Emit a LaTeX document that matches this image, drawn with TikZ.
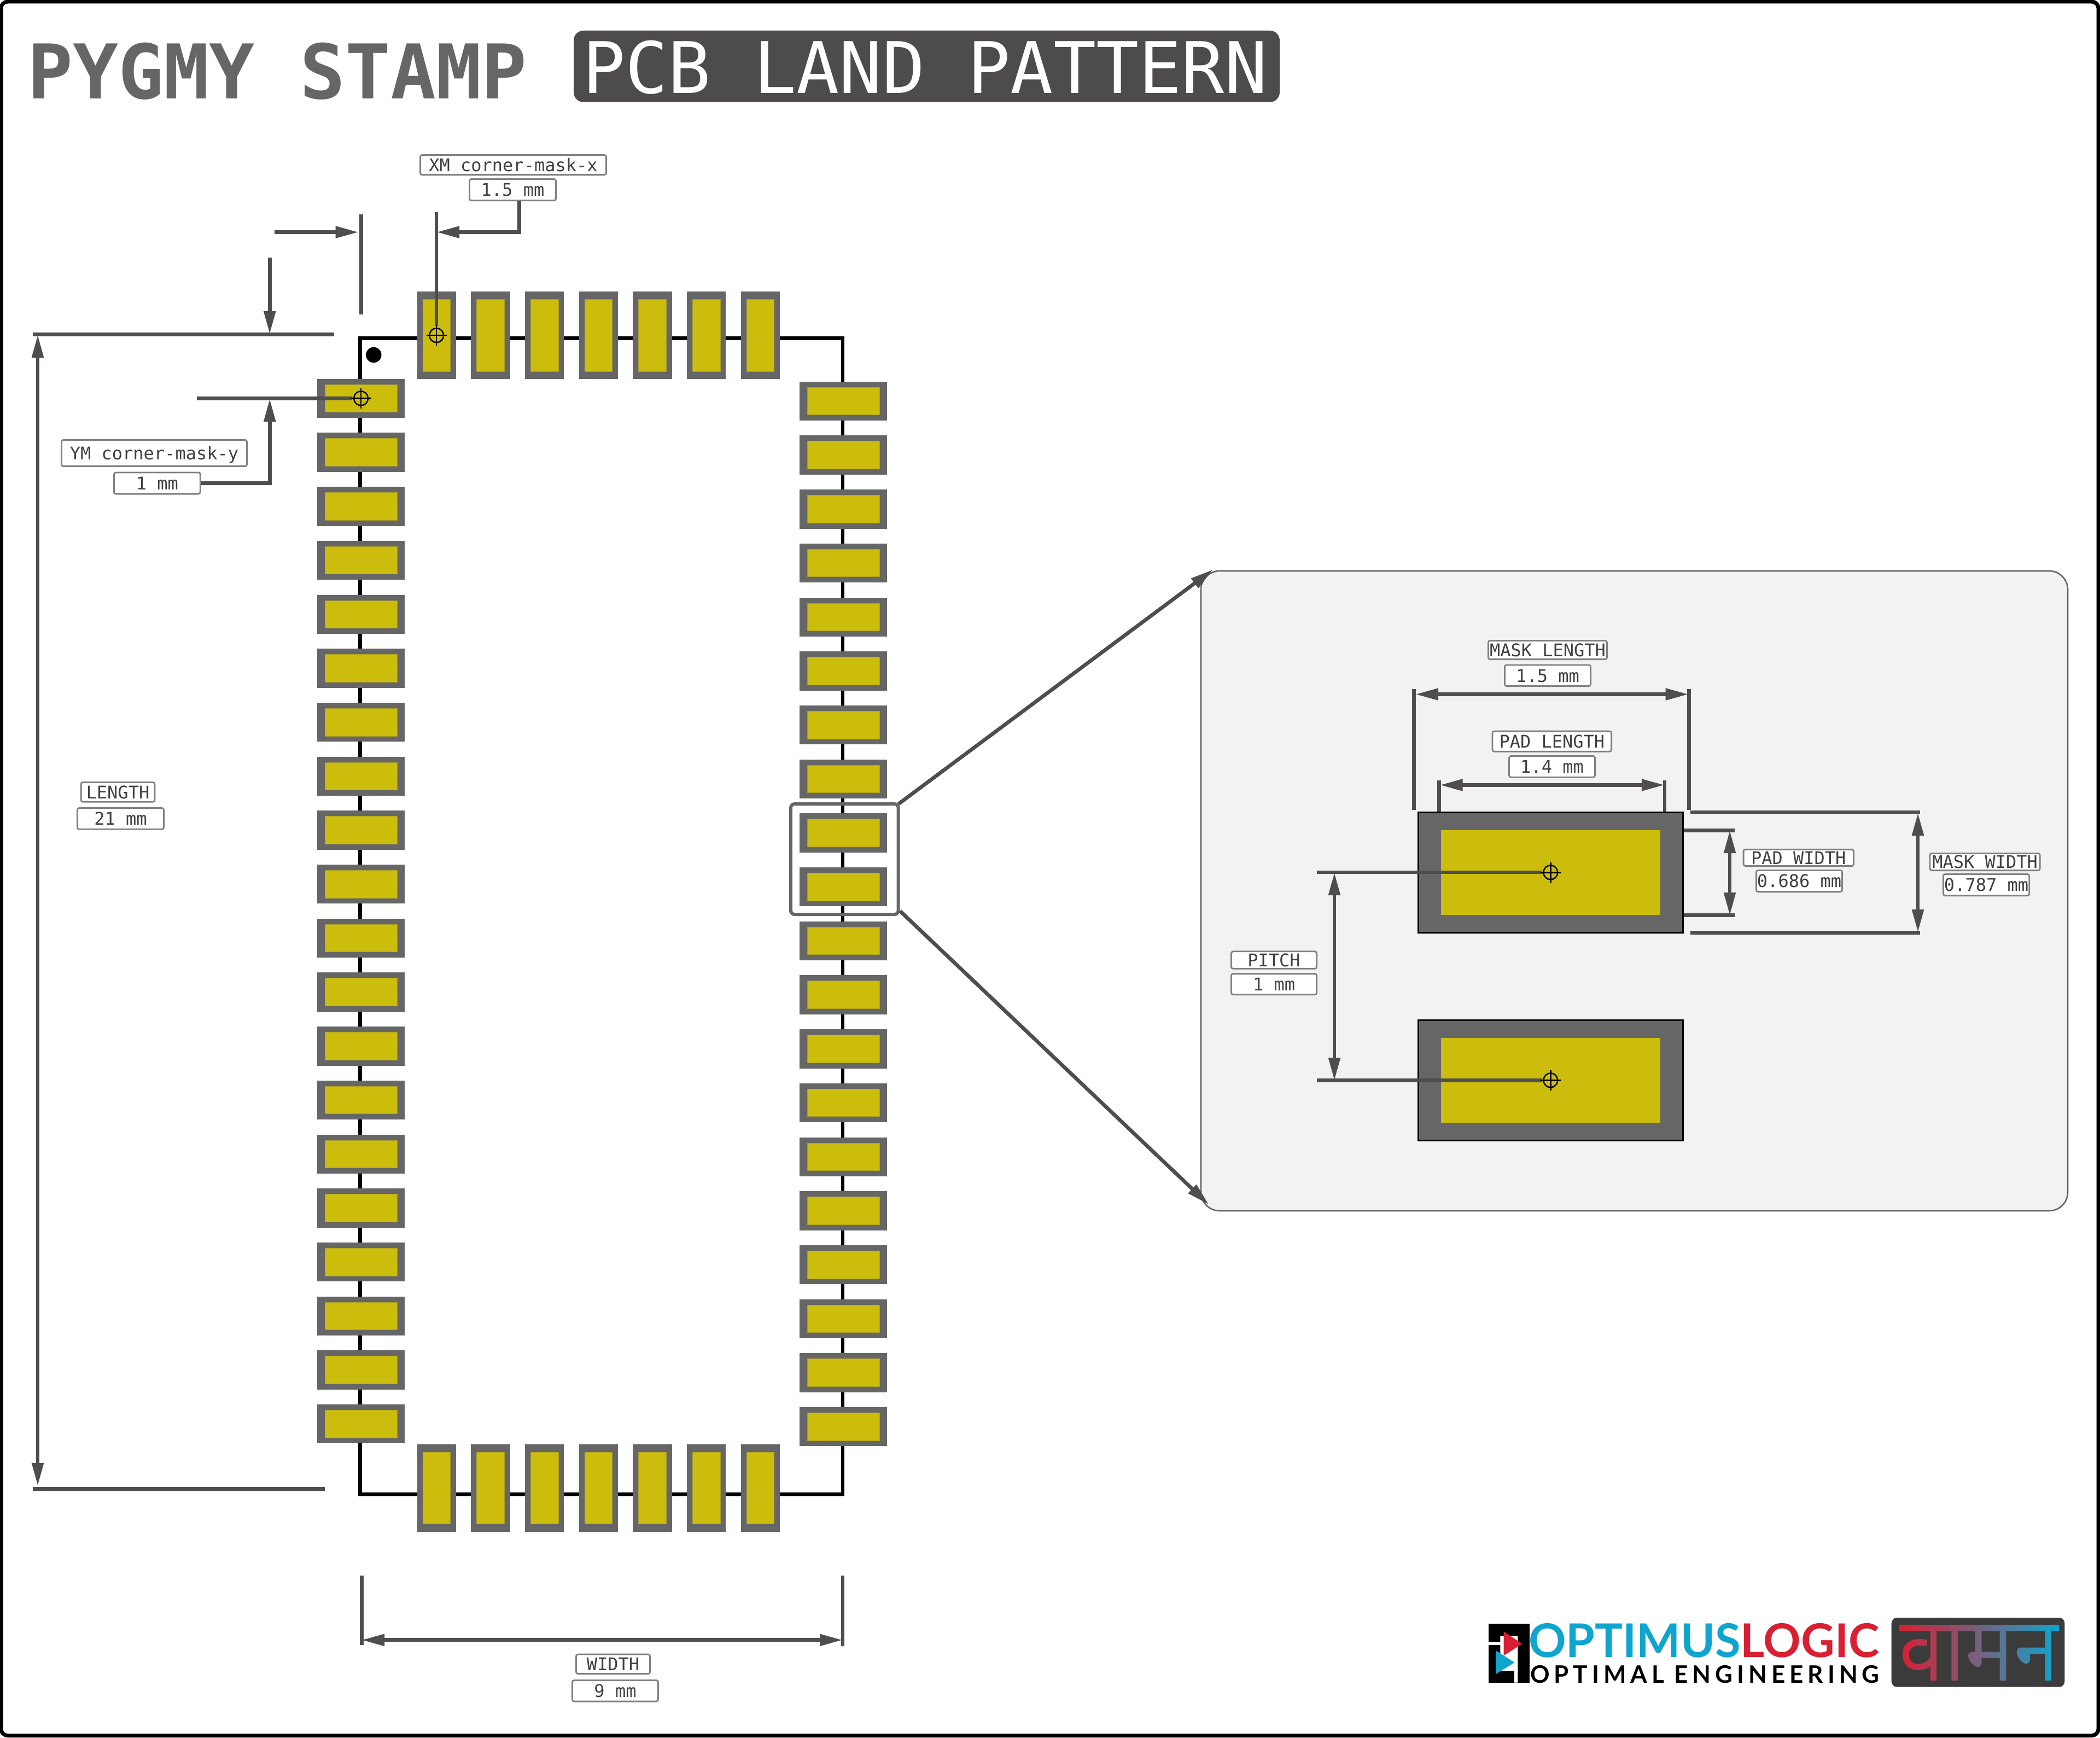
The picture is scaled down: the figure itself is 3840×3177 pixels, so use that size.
\documentclass[tikz,border=0pt]{standalone}
\usepackage{graphicx}
\usepackage{fontspec}
\setmainfont{DejaVu Sans}
\setmonofont{DejaVu Sans Mono}
\newfontfamily\lato{Lato}
\newfontfamily\latospaced[LetterSpace=18]{Lato}
\newfontfamily\vamanfont[Script=Devanagari]{Noto Sans}
\usetikzlibrary{arrows.meta,fadings}
\definecolor{dimc}{HTML}{4F4D4E}
\definecolor{maskc}{HTML}{666666}
\definecolor{copperc}{HTML}{CCBD0C}
\definecolor{copperl}{HTML}{A89C28}
\definecolor{boxc}{HTML}{808080}
\definecolor{textc}{HTML}{404040}
\definecolor{titlec}{HTML}{666666}
\definecolor{titlebg}{HTML}{4D4B4C}
\definecolor{logocyan}{HTML}{0EA5CE}
\definecolor{logored}{HTML}{D91F31}
\definecolor{vamanbg}{HTML}{3B3B3B}
\definecolor{panelc}{HTML}{F2F2F2}
\tikzset{
  dimtip/.tip={Triangle[length=42pt,width=20.5pt,sep=-3pt]},
  dimline/.style={draw=dimc,line width=6.8pt},
  dimarrow/.style={dimline,-{dimtip}},
  dimboth/.style={dimline,{dimtip}-{dimtip}},
  dimbox/.style={draw=boxc,fill=white,line width=2.8pt,rounded corners=3.5pt,inner sep=0pt,
     text=textc,font=\ttfamily\fontsize{32}{32}\selectfont,text height=23.5pt,text depth=0pt,align=center},
  maskh/.style={rectangle,fill=maskc,inner sep=0pt,minimum width=160pt,minimum height=71.4pt},
  copperh/.style={rectangle,fill=copperc,draw=copperl,line width=.8pt,inner sep=0pt,minimum width=132pt,minimum height=50.6pt},
  maskv/.style={rectangle,fill=maskc,inner sep=0pt,minimum width=71.4pt,minimum height=160pt},
  copperv/.style={rectangle,fill=copperc,draw=copperl,line width=.8pt,inner sep=0pt,minimum width=50.6pt,minimum height=131.7pt},
  detailmask/.style={rectangle,fill=maskc,draw=black,line width=2.6pt,inner sep=0pt,minimum width=484pt,minimum height=220pt},
  detailcopper/.style={rectangle,fill=copperc,inner sep=0pt,minimum width=401pt,minimum height=155pt},
  xhair/.style={draw=black,line width=2.4pt},
}
\newcommand{\dimlabel}[6]{%
  \pgfmathsetmacro{\dlw}{#4-#2-2.8}\pgfmathsetmacro{\dlh}{#5-#3-2.8}%
  \node[dimbox,minimum width=\dlw pt,minimum height=\dlh pt] (#1) at ({(#2+#4)/2},{(#3+#5)/2}) {#6};}
\newcommand{\crosshair}[1]{%
  \draw[xhair] (#1.center) circle[radius=13pt];
  \draw[xhair] ([xshift=-18.5pt]#1.center) -- ([xshift=18.5pt]#1.center);
  \draw[xhair] ([yshift=-18.5pt]#1.center) -- ([yshift=18.5pt]#1.center);}
\begin{tikzfadingfrompicture}[name=vamanfade]
  \node[text=transparent!0,inner sep=0pt] at (0,0) {\resizebox{292pt}{102pt}{\vamanfont\bfseries वामन}};
\end{tikzfadingfrompicture}
\begin{document}
\begin{tikzpicture}[x=1pt,y=-1pt]
\useasboundingbox (0,0) rectangle (3840,3177);
\fill[white] (0,0) rectangle (3840,3177);
\draw[black,line width=7pt,rounded corners=12pt] (2,3) rectangle (3837,3173.5);

% title
\node[anchor=base west,inner sep=0pt,text=titlec,font=\ttfamily\bfseries\fontsize{138}{138}\selectfont] (title1) at (50,180) {PYGMY STAMP};
\fill[titlebg,rounded corners=18pt] (1049,56) rectangle (2340,186.7);
\node[anchor=base west,inner sep=0pt,text=white,font=\ttfamily\fontsize{130}{130}\selectfont] (title2) at (1065,170) {PCB LAND PATTERN};

% board outline
\draw[black,line width=6.4pt] (658.5,618.3) rectangle (1541,2732.4);

% pads
\foreach \i in {0,...,19}{
  \pgfmathsetmacro{\yl}{728.4+\i*98.7}
  \pgfmathsetmacro{\yr}{733.4+\i*98.7}
  \node[maskh] (L\i) at (660,\yl) {};
  \node[copperh] (Lc\i) at (660,\yl) {};
  \node[maskh] (R\i) at (1542,\yr) {};
  \node[copperh] (Rc\i) at (1542,\yr) {};
}
\foreach \j in {0,...,6}{
  \pgfmathsetmacro{\xp}{798.2+\j*98.7}
  \node[maskv] (T\j) at (\xp,613.2) {};
  \node[copperv] (Tc\j) at (\xp,613.6) {};
  \node[maskv] (B\j) at (\xp,2721) {};
  \node[copperv] (Bc\j) at (\xp,2720.8) {};
}
% pin-1 dot
\fill[black] (683.3,649) circle[radius=14.2pt];

% zoom frame
\node[rectangle,draw=maskc,line width=6pt,rounded corners=7pt,inner sep=0pt,minimum width=196.7pt,minimum height=202pt] (frame) at (1544.3,1571) {};

% detail panel
\node[rectangle,draw=maskc,fill=panelc,line width=2.6pt,rounded corners=34pt,inner sep=0pt,minimum width=1585pt,minimum height=1170pt] (panel) at (2988.5,1629) {};
\coordinate (ztopa) at (1643,1470);
\coordinate (ztopb) at (2215.7,1043.3);
\coordinate (zbota) at (1645.7,1665.7);
\coordinate (zbotb) at (2208.3,2200.7);
\draw[dimarrow] (ztopa) -- (ztopb);
\draw[dimarrow] (zbota) -- (zbotb);

\node[detailmask] (dm1) at (2835.3,1595.3) {};
\node[detailcopper] (dc1) at (2835.3,1595.7) {};
\node[detailmask] (dm2) at (2835.3,1975.3) {};
\node[detailcopper] (dc2) at (2835.3,1975.7) {};

% top-left dimensions
\coordinate (cxL1) at (660.3,391.5); \coordinate (cxL2) at (660.3,575);
\coordinate (cxR1) at (798,387.5);   \coordinate (cxR2) at (798,596);
\coordinate (cxA1) at (502,424.5);   \coordinate (cxA2) at (652.7,424.5);
\coordinate (cxB2) at (801,424.5);
\coordinate (cyA1) at (493.2,471.4); \coordinate (cyA2) at (493.2,608);
\coordinate (cyB2) at (493.2,732);
\coordinate (cyL1) at (60,611.6);    \coordinate (cyL2) at (610.6,611.6);
\coordinate (cyP1) at (360,728.6);   \coordinate (cyP2) at (643,728.6);
\coordinate (lenA) at (69,615);      \coordinate (lenB) at (69,2714);
\coordinate (lenL1) at (60,2722.4);  \coordinate (lenL2) at (593.5,2722.4);
\dimlabel{xmn}{767}{282}{1110}{321}{XM corner-mask-x}
\dimlabel{xmv}{857}{326}{1018}{368}{1.5 mm}
\dimlabel{ymn}{111}{803}{453}{854}{YM corner-mask-y}
\dimlabel{ymv}{207}{862.5}{367.6}{904.5}{1 mm}
\dimlabel{lenn}{146.7}{1429}{284.3}{1467.7}{LENGTH}
\dimlabel{lenv}{140}{1476}{301}{1517.7}{21 mm}
\dimlabel{widn}{1052}{3023.6}{1190}{3062}{WIDTH}
\dimlabel{widv}{1045}{3071}{1205}{3112.5}{9 mm}
\draw[dimline] (cxL1) -- (cxL2);
\draw[dimline] (cxR1) -- (cxR2);
\draw[dimarrow] (cxA1) -- (cxA2);
\draw[dimarrow] ([xshift=12pt]xmv.south) |- (cxB2);
\draw[dimarrow] (cyA1) -- (cyA2);
\draw[dimarrow] (ymv.east) -| (cyB2);
\draw[dimline] (cyL1) -- (cyL2);
\draw[dimline] (cyP1) -- (cyP2);
\draw[dimboth] (lenA) -- (lenB);
\draw[dimline] (lenL1) -- (lenL2);
\crosshair{T0}
\crosshair{L0}

% width dimension
\coordinate (wa1) at (661.6,2880.5); \coordinate (wa2) at (661.6,3008);
\coordinate (wb1) at (1541,2880.5);  \coordinate (wb2) at (1541,3010);
\coordinate (wl) at (664,2998.8);    \coordinate (wr) at (1538,2998.8);
\draw[dimline] (wa1) -- (wa2);
\draw[dimline] (wb1) -- (wb2);
\draw[dimboth] (wl) -- (wr);

% panel dimensions
\coordinate (ml1a) at (2585.7,1260); \coordinate (ml1b) at (2585.7,1481);
\coordinate (ml2a) at (3088.8,1260); \coordinate (ml2b) at (3088.8,1481);
\coordinate (mlL) at (2591,1269.5);  \coordinate (mlR) at (3084.7,1269.5);
\coordinate (pl1a) at (2631.6,1427.4); \coordinate (pl1b) at (2631.6,1484);
\coordinate (pl2a) at (3043.9,1427.4); \coordinate (pl2b) at (3043.9,1484);
\coordinate (plL) at (2635.7,1435.4); \coordinate (plR) at (3040.8,1435.4);
\coordinate (pw1a) at (3078.6,1518.4); \coordinate (pw1b) at (3172.4,1518.4);
\coordinate (pw2a) at (3078.6,1673.8); \coordinate (pw2b) at (3172.4,1673.8);
\coordinate (pwT) at (3163,1521);    \coordinate (pwB) at (3163,1671);
\coordinate (mw1a) at (3091,1485);   \coordinate (mw1b) at (3511,1485);
\coordinate (mw2a) at (3091,1705.7); \coordinate (mw2b) at (3511,1705.7);
\coordinate (mwT) at (3507,1489);    \coordinate (mwB) at (3507,1702);
\coordinate (pi1a) at (2408,1595);   \coordinate (pi1b) at (2819,1595);
\coordinate (pi2a) at (2408,1975.3); \coordinate (pi2b) at (2819,1975.3);
\coordinate (piT) at (2440,1598);    \coordinate (piB) at (2440,1973);
\foreach \a/\b in {ml1a/ml1b,ml2a/ml2b,pl1a/pl1b,pl2a/pl2b,pw1a/pw1b,pw2a/pw2b,mw1a/mw1b,mw2a/mw2b,pi1a/pi1b,pi2a/pi2b}
  \draw[dimline] (\a) -- (\b);
\foreach \a/\b in {mlL/mlR,plL/plR,pwT/pwB,mwT/mwB,piT/piB}
  \draw[dimboth] (\a) -- (\b);
\crosshair{dm1}
\crosshair{dm2}
\dimlabel{mln}{2720}{1170}{2940}{1207}{MASK LENGTH}
\dimlabel{mlv}{2750}{1214.5}{2910}{1256}{1.5 mm}
\dimlabel{pln}{2727.6}{1335.7}{2948}{1375.6}{PAD LENGTH}
\dimlabel{plv}{2758}{1381}{2918}{1422.6}{1.4 mm}
\dimlabel{pwn}{3186.7}{1551.8}{3390.8}{1585}{PAD WIDTH}
\dimlabel{pwv}{3210}{1590}{3370}{1632}{0.686 mm}
\dimlabel{mwn}{3527.6}{1559}{3731.6}{1593}{MASK WIDTH}
\dimlabel{mwv}{3552}{1597}{3712}{1639}{0.787 mm}
\dimlabel{pin}{2250}{1738.4}{2409}{1772.7}{PITCH}
\dimlabel{piv}{2250}{1779}{2409}{1820}{1 mm}

% logo icon
\fill[black] (2721.7,2969.3) rectangle (2796.7,3076.7);
\fill[white] (2721.7,3002.3) rectangle (2744,3008.3);
\fill[white] (2743.3,2991.3) -- (2775.3,2991.3) -- (2775.3,3076.7) -- (2769,3076.7) -- (2769,3055) -- (2743.3,3055) -- cycle;
\fill[logored] (2749.7,2983.3) -- (2783.3,3005.7) -- (2749.7,3027.3) -- cycle;
\fill[logocyan] (2735.3,3018) -- (2769.3,3040) -- (2735.3,3061) -- cycle;
% logo text
\node[anchor=base west,inner sep=0pt,font=\lato\bfseries\fontsize{85}{85}\selectfont] (logo1) at (2795,3030) {\textcolor{logocyan}{OPTIMUS}\textcolor{logored}{LOGIC}};
\node[anchor=base west,inner sep=0pt,text=black,font=\latospaced\bfseries\fontsize{44}{44}\selectfont] (logo2) at (2798,3077) {OPTIMAL ENGINEERING};
% vaman
\fill[vamanbg,rounded corners=10pt] (3458.7,2958) rectangle (3775.3,3084.7);
\shade[left color=logored,right color=logocyan,path fading=vamanfade,fit fading=false,fading transform={xshift=3619pt,yshift=-3022.5pt}] (3473,2971) rectangle (3765,3074);
\end{tikzpicture}
\end{document}
